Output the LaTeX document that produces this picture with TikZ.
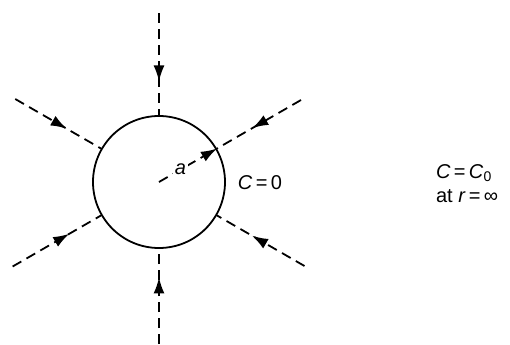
\documentclass[tikz,border=0pt]{standalone}
\usepackage{fontspec}
\setmainfont{Liberation Sans}
\usepackage{tikz}
\usetikzlibrary{arrows.meta,calc,decorations.markings}

\begin{document}
\begin{tikzpicture}[>=Latex,x=0.5pt,y=0.5pt,font=\fontsize{10}{12}\selectfont]
  \tikzset{flux/.style={line width=0.9pt,dash pattern=on 5pt off 3pt,postaction={decorate},
      decoration={markings,mark=at position #1 with {\arrow{Latex[length=8pt,width=5.5pt]}}}}}
  \tikzstyle{rim}=[circle,draw,line width=0.9pt,minimum size=66pt,inner sep=0pt]
  \useasboundingbox (0,0) rectangle (510,344);
  \node[rim] (c) at (159,162) {};
  \coordinate (n) at ($(c)+(90:169)$);
  \coordinate (s) at ($(c)+(270:162)$);
  \coordinate (nw) at ($(c)+(150:166)$);
  \coordinate (sw) at ($(c)+(210:169)$);
  \coordinate (ne) at ($(c)+(30:164)$);
  \coordinate (se) at ($(c)+(330:168)$);
  \draw[flux=0.67] (n) -- (c.90);
  \draw[flux=0.7] (s) -- (c.270);
  \draw[flux=0.6] (nw) -- (c.150);
  \draw[flux=0.64] (sw) -- (c.210);
  \draw[flux=0.58] (ne) -- (c.30);
  \draw[flux=0.6] (se) -- (c.330);
  \draw[line width=0.9pt,dash pattern=on 5pt off 3pt,-{Latex[length=8pt,width=5.5pt]}] (c.center) -- (c.30)
    node[pos=0.37,fill=white,inner sep=1pt] (a) {\textit{a}};
  \node (cz) at (260,161) {\textit{C}\,=\,0};
  \node[align=left,anchor=west] (cinf) at (429,160) {\textit{C}\,=\,\textit{C}\textsubscript{0}\\at \textit{r}\,=\,∞};
\end{tikzpicture}
\end{document}
